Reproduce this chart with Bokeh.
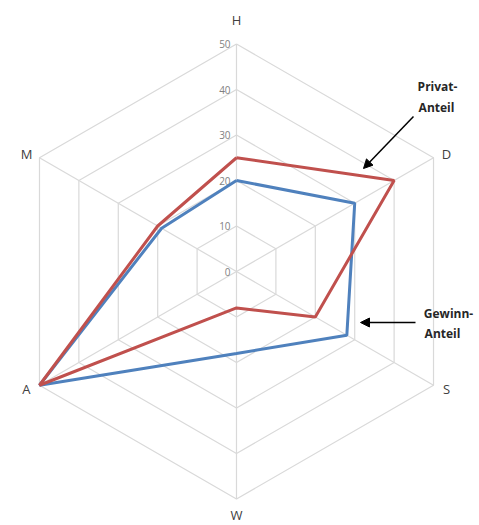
import numpy as np
from bokeh.plotting import figure
from bokeh.models import Range1d, Arrow, NormalHead
from bokeh.core.properties import value
from bokeh.embed import file_html
from bokeh.resources import INLINE

# Data
axes_labels = ["H", "D", "S", "W", "A", "M"]
privat = [25, 40, 20, 8, 50, 20]
gewinn = [20, 30, 28, 18, 50, 19]
ticks = [0, 10, 20, 30, 40, 50]

W, H = 479, 525
cx, cy, scale = 236, 271, 4.55  # pixel center and px per unit

p = figure(width=W, height=H, output_backend="svg", toolbar_location=None,
           x_range=Range1d(-cx / scale, (W - cx) / scale),
           y_range=Range1d(-(H - cy) / scale, cy / scale),
           min_border=0)
p.axis.visible = False
p.grid.visible = False
p.outline_line_color = None
p.background_fill_color = "white"

n = len(axes_labels)
angles = np.pi / 2 - np.arange(n) * 2 * np.pi / n

def xy(vals):
    v = np.asarray(vals, dtype=float)
    return list(v * np.cos(angles)) + [v[0] * np.cos(angles[0])], \
           list(v * np.sin(angles)) + [v[0] * np.sin(angles[0])]

grid_col = "#d9d9d9"
for t in ticks[1:]:
    gx, gy = xy([t] * n)
    p.line(gx, gy, line_color=grid_col, line_width=1.2)
R = ticks[-1]
for a in angles:
    p.line([0, R * np.cos(a)], [0, R * np.sin(a)], line_color=grid_col, line_width=1.2)

# tick labels
p.text(x=[-1.3] * len(ticks), y=ticks, text=[str(t) for t in ticks],
       text_align="right", text_baseline="middle", text_font=value("Open Sans"),
       text_font_size="10px", text_color="#7f7f7f")

# category labels: offset from the outer vertex, in pixels
off_px = [(0, -24), (13, -4), (13, 4), (0, 16), (-13, 4), (-13, -4)]
lx = [R * np.cos(a) + ox / scale for a, (ox, oy) in zip(angles, off_px)]
ly = [R * np.sin(a) - oy / scale for a, (ox, oy) in zip(angles, off_px)]
p.text(x=lx, y=ly, text=axes_labels, text_align="center", text_baseline="middle",
       text_font=value("Open Sans"), text_font_size="13px", text_color="#404040")

gx, gy = xy(gewinn)
p.line(gx, gy, line_color="#4f81bd", line_width=3)
px_, py_ = xy(privat)
p.line(px_, py_, line_color="#c0504d", line_width=3)

def d(px, py):
    return (px - cx) / scale, (cy - py) / scale

# annotations
for txt, (tx, ty) in [("Privat-", (437, 86)), ("Anteil", (436, 107)),
                      ("Gewinn-", (448, 313)), ("Anteil", (442, 333))]:
    x0, y0 = d(tx, ty)
    p.text(x=[x0], y=[y0], text=[txt], text_align="center", text_baseline="middle",
           text_font=value("Open Sans"), text_font_size="12px", text_font_style="bold",
           text_color="#262626")

ax0, ay0 = d(413, 116)
ax1, ay1 = d(363, 168)
p.add_layout(Arrow(end=NormalHead(size=9, fill_color="black", line_color="black"),
                   x_start=ax0, y_start=ay0, x_end=ax1, y_end=ay1,
                   line_color="black", line_width=1.5))
bx0, by0 = d(415, 322)
bx1, by1 = d(360, 322)
p.add_layout(Arrow(end=NormalHead(size=9, fill_color="black", line_color="black"),
                   x_start=bx0, y_start=by0, x_end=bx1, y_end=by1,
                   line_color="black", line_width=1.5))

open("out.html", "w").write(file_html(p, INLINE))
